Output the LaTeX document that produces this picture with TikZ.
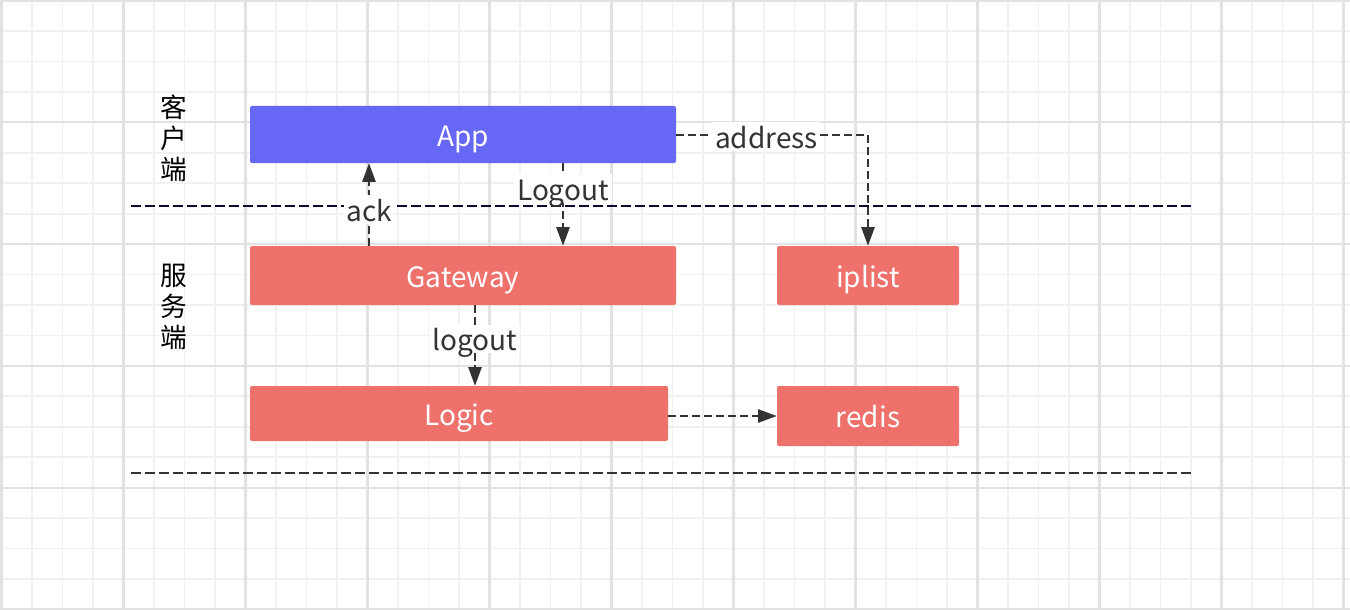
\documentclass[tikz,border=0pt]{standalone}
\usepackage{fontspec}
\setmainfont{Noto Sans CJK SC}
\usetikzlibrary{arrows.meta}
\definecolor{gridminor}{HTML}{F1F1F1}
\definecolor{gridmajor}{HTML}{E2E2E2}
\definecolor{appblue}{HTML}{6767F6}
\definecolor{boxred}{HTML}{EE716C}
\definecolor{ink}{HTML}{333333}
\definecolor{navy}{HTML}{0B0B2E}
\tikzset{
  box/.style={rectangle, rounded corners=1.5pt, draw=none, text=white,
    font=\fontsize{21}{25}\selectfont, inner sep=0pt, text height=17.5pt, text depth=0pt},
  conn/.style={draw=ink, line width=1.2pt, dash pattern=on 5.5pt off 3.5pt,
    -{Triangle[length=14pt,width=10pt]}},
  lab/.style={fill=white, text=ink, font=\fontsize{21}{25}\selectfont, inner sep=2pt,
    text height=17.5pt, text depth=0pt},
  sepline/.style={line width=1.5pt, dash pattern=on 7.5pt off 3pt},
  side/.style={text=black, font=\fontsize{20}{23.25}\selectfont, align=center, inner sep=0pt},
  minorline/.style={draw=gridminor, line width=1.3pt},
  majorline/.style={draw=gridmajor, line width=1.6pt},
}
\begin{document}
\begin{tikzpicture}[x=0.75pt, y=-0.75pt]
\useasboundingbox (0,0) rectangle (1350,610);
\fill[white] (0,0) rectangle (1350,610);
% grid
\foreach \i in {0,...,44} {\draw[minorline] (1.5+30.5*\i,0) -- (1.5+30.5*\i,610);}
\foreach \j in {0,...,20} {\draw[minorline] (0,0.5+30.45*\j) -- (1350,0.5+30.45*\j);}
\foreach \i in {0,4,...,44} {\draw[majorline] (1.5+30.5*\i,0) -- (1.5+30.5*\i,610);}
\foreach \j in {0,4,...,20} {\draw[majorline] (0,0.5+30.45*\j) -- (1350,0.5+30.45*\j);}
% separators
\coordinate (s1a) at (131,206);
\coordinate (s1b) at (1192,206);
\coordinate (s2a) at (131,473);
\coordinate (s2b) at (1192,473);
\draw[sepline, draw=navy] (s1a) -- (s1b);
\draw[sepline, draw=ink] (s2a) -- (s2b);
% side labels
\node[side] (client) at (174,138) {客\\户\\端};
\node[side] (server) at (174,307) {服\\务\\端};
% boxes
\node[box, fill=appblue, minimum width=319.5pt, minimum height=42.75pt] (App) at (463,134.5) {App};
\node[box, fill=boxred, minimum width=319.5pt, minimum height=44.25pt] (Gateway) at (463,275.5) {Gateway};
\node[box, fill=boxred, minimum width=136.5pt, minimum height=44.25pt] (iplist) at (868,275.5) {iplist};
\node[box, fill=boxred, minimum width=313.5pt, minimum height=41.25pt] (Logic) at (459,413.5) {Logic};
\node[box, fill=boxred, minimum width=136.5pt, minimum height=45pt] (redis) at (868,416) {redis};
% connectors
\coordinate (ackx) at (369,0);
\coordinate (logx) at (563,0);
\coordinate (lgx) at (475,0);
\coordinate (addrc) at (868,135);
\draw[conn] (Gateway.north -| ackx) -- node[lab, pos=0.44] (acklab) {ack} (App.south -| ackx);
\draw[conn] (App.south -| logx) -- node[lab, pos=0.31] (logoutlab) {Logout} (Gateway.north -| logx);
\draw[conn] (App.east |- addrc) -- node[lab, pos=0.47, yshift=-1pt] (addrlab) {address} (addrc) -- (iplist.north);
\draw[conn] (Gateway.south -| lgx) -- node[lab, pos=0.42] (lglab) {logout} (Logic.north -| lgx);
\draw[conn] (redis.west -| Logic.east) -- (redis.west);
\end{tikzpicture}
\end{document}
